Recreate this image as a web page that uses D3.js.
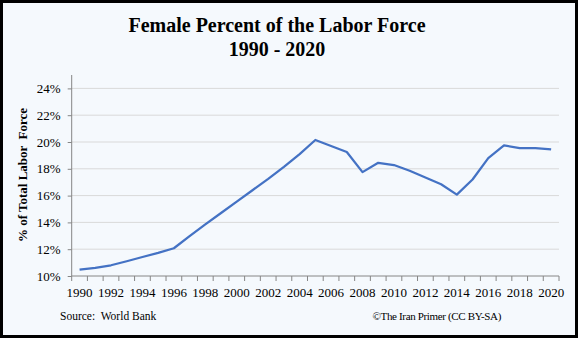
<!DOCTYPE html>
<html>
<head>
<meta charset="utf-8">
<script src="https://cdn.jsdelivr.net/npm/d3@7/dist/d3.min.js"></script>
<style>
  html, body { margin: 0; padding: 0; background: #fff; }
  svg { display: block; }
  text { font-family: "Liberation Serif", "Times New Roman", serif; fill: #000; }
</style>
</head>
<body>
<svg id="chart" width="578" height="338"></svg>
<script>
// Female share of the labor force, Iran, 1990–2020 (percent)
const years = d3.range(1990, 2021);
const femaleShare = [
  10.47, 10.6, 10.8, 11.1, 11.42, 11.72, 12.07, 12.97, 13.85, 14.7,
  15.55, 16.4, 17.25, 18.15, 19.1, 20.15, 19.7, 19.25, 17.75, 18.45,
  18.28, 17.85, 17.35, 16.85, 16.07, 17.2, 18.8, 19.75, 19.55, 19.55,
  19.45
];
const yTicks = [10, 12, 14, 16, 18, 20, 22, 24];
const xLabelYears = years.filter(y => y % 2 === 0);

const titleLines = ["Female Percent of the Labor Force", "1990 - 2020"];
const yTitle = "% of Total Labor  Force";
const sourceText = "Source:  World Bank";
const creditText = "\u00A9The Iran Primer (CC BY-SA)";

const svg = d3.select("#chart");
const W = 578, H = 338;

// background and frame
svg.append("rect").attr("x", 0).attr("y", 0).attr("width", W).attr("height", H)
  .attr("fill", "#f5f9fd");
svg.append("rect").attr("x", 1.5).attr("y", 1.5).attr("width", W - 3).attr("height", H - 3)
  .attr("fill", "none").attr("stroke", "#000").attr("stroke-width", 3);

const plot = { left: 71.7, right: 559, top: 75, bottom: 276 };

const x = d3.scaleBand().domain(years).range([plot.left, plot.right]).paddingInner(0).paddingOuter(0);
const y = d3.scaleLinear().domain([10, 25]).range([plot.bottom, plot.top]);

// title
svg.append("g").selectAll("text").data(titleLines).join("text")
  .attr("x", 277).attr("y", (d, i) => 32 + i * 24)
  .attr("text-anchor", "middle")
  .attr("font-size", 20).attr("font-weight", "bold")
  .text(d => d);

// gridlines
svg.append("g").selectAll("line").data(yTicks.filter(t => t > 10)).join("line")
  .attr("x1", plot.left).attr("x2", plot.right)
  .attr("y1", d => y(d)).attr("y2", d => y(d))
  .attr("stroke", "#d9d9d9").attr("stroke-width", 1);

// y axis
const yAxis = d3.axisLeft(y).tickValues(yTicks).tickFormat(d => d + "%").tickSize(4).tickPadding(7);
const gy = svg.append("g").attr("transform", `translate(${plot.left},0)`).call(yAxis);
gy.select(".domain").attr("stroke", "#868686").attr("d", `M0,${plot.top}V${plot.bottom}`);
gy.selectAll(".tick line").attr("stroke", "#868686");
gy.selectAll(".tick text").attr("font-size", 13).attr("font-family", "Liberation Serif, serif").attr("fill", "#000");

// x axis: ticks between categories, labels on every other year
const bounds = years.map(yr => x(yr)).concat([plot.right]);
const gx = svg.append("g");
gx.append("line").attr("x1", plot.left).attr("x2", plot.right)
  .attr("y1", plot.bottom).attr("y2", plot.bottom).attr("stroke", "#868686");
gx.selectAll("line.tk").data(bounds).join("line").attr("class", "tk")
  .attr("x1", d => d).attr("x2", d => d)
  .attr("y1", plot.bottom).attr("y2", plot.bottom + 5)
  .attr("stroke", "#868686");
gx.selectAll("text").data(xLabelYears).join("text")
  .attr("x", d => x(d) + x.bandwidth() / 2)
  .attr("y", 296.5)
  .attr("text-anchor", "middle")
  .attr("font-size", 13)
  .text(d => d);

// y axis title
svg.append("text")
  .attr("transform", "translate(27,175) rotate(-90)")
  .attr("text-anchor", "middle")
  .attr("font-size", 13).attr("font-weight", "bold")
  .style("white-space", "pre")
  .text(yTitle);

// data line
const line = d3.line()
  .x((d, i) => x(years[i]) + x.bandwidth() / 2)
  .y(d => y(d));
svg.append("path").datum(femaleShare)
  .attr("d", line)
  .attr("fill", "none")
  .attr("stroke", "#4472c4")
  .attr("stroke-width", 2.25)
  .attr("stroke-linejoin", "round");

// footer
svg.append("text").attr("x", 60).attr("y", 320).attr("font-size", 11.5).style("white-space", "pre").text(sourceText);
svg.append("text").attr("x", 501).attr("y", 320).attr("text-anchor", "end").attr("font-size", 11).attr("letter-spacing", -0.35).text(creditText);
</script>
</body>
</html>
